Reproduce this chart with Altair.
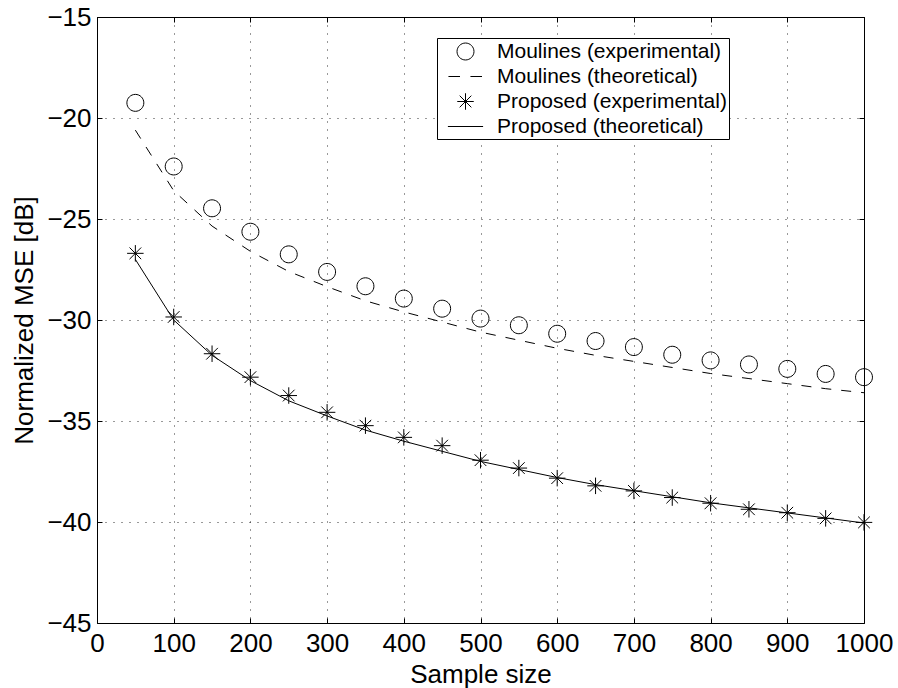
import altair as alt
import pandas as pd

# ---- data ----
sample_size = [50, 100, 150, 200, 250, 300, 350, 400, 450, 500,
               550, 600, 650, 700, 750, 800, 850, 900, 950, 1000]
moulines_exp = [-19.25, -22.4, -24.47, -25.63, -26.75, -27.62, -28.33, -28.94, -29.44, -29.93,
                -30.26, -30.68, -31.04, -31.34, -31.72, -32.0, -32.2, -32.42, -32.67, -32.83]
moulines_theo = [-20.6, -23.6, -25.35, -26.6, -27.6, -28.35, -29.05, -29.6, -30.1, -30.6,
                 -31.0, -31.4, -31.75, -32.05, -32.35, -32.65, -32.9, -33.15, -33.4, -33.6]
proposed_exp = [-26.7, -29.85, -31.67, -32.83, -33.74, -34.57, -35.23, -35.81, -36.22, -36.94,
                -37.33, -37.83, -38.21, -38.46, -38.79, -39.07, -39.37, -39.54, -39.82, -40.02]
proposed_theo = [-27.0, -30.0, -31.75, -33.0, -34.0, -34.75, -35.45, -36.0, -36.5, -37.0,
                 -37.4, -37.8, -38.15, -38.45, -38.75, -39.05, -39.3, -39.55, -39.8, -40.05]

series_names = ["Moulines (experimental)", "Moulines (theoretical)",
                "Proposed (experimental)", "Proposed (theoretical)"]
x_ticks = [0, 100, 200, 300, 400, 500, 600, 700, 800, 900, 1000]
y_ticks = [-45, -40, -35, -30, -25, -20, -15]

# ---- tables ----
points_df = pd.DataFrame({
    "n": sample_size * 2,
    "mse": moulines_exp + proposed_exp,
    "series": [series_names[0]] * len(sample_size) + [series_names[2]] * len(sample_size),
})
moul_line_df = pd.DataFrame({"n": sample_size, "mse": moulines_theo})
prop_line_df = pd.DataFrame({"n": sample_size, "mse": proposed_theo})

FONT = "Liberation Sans"
x_scale = alt.Scale(domain=[0, 1000], nice=False, zero=False)
y_scale = alt.Scale(domain=[-45, -15], nice=False, zero=False)

# symbol shapes (unit = half of sqrt(size))
circle_path = "M0.77,0A0.77,0.77,0,1,1,-0.77,0A0.77,0.77,0,1,1,0.77,0Z"
star_path = "M-0.75,0L0.75,0M0,-0.75L0,0.75M-0.53,-0.53L0.53,0.53M-0.53,0.53L0.53,-0.53"
dash_path = "M-1.55,0L-0.5,0M0.45,0L1.5,0"
solid_path = "M-1.6,0L1.6,0"

main_x_axis = alt.Axis(orient="bottom", values=x_ticks, format="d", title="Sample size",
                       offset=-5, tickSize=5, domain=False, grid=True,
                       labelFlush=False, labelOverlap=False, labelPadding=7, titlePadding=5)
main_y_axis = alt.Axis(orient="left", values=y_ticks, format="d", title="Normalized MSE [dB]",
                       offset=-5, tickSize=5, domain=False, grid=True,
                       labelFlush=False, labelOverlap=False, labelPadding=6, titlePadding=9)
top_x_axis = alt.Axis(orient="top", values=x_ticks, offset=-5, tickSize=5, domain=False,
                      grid=False, labels=False, title=None)
right_y_axis = alt.Axis(orient="right", values=y_ticks, offset=-5, tickSize=5, domain=False,
                        grid=False, labels=False, title=None)

moul_line = alt.Chart(moul_line_df).mark_line(
    color="black", strokeWidth=1, strokeDash=[10, 10]
).encode(
    x=alt.X("n:Q", scale=x_scale, axis=top_x_axis),
    y=alt.Y("mse:Q", scale=y_scale, axis=right_y_axis),
)

prop_line = alt.Chart(prop_line_df).mark_line(
    color="black", strokeWidth=1
).encode(
    x=alt.X("n:Q", scale=x_scale, axis=None),
    y=alt.Y("mse:Q", scale=y_scale, axis=None),
)

points = alt.Chart(points_df).mark_point(
    filled=False, color="black", strokeWidth=1, opacity=1, size=484
).encode(
    x=alt.X("n:Q", scale=x_scale, axis=main_x_axis),
    y=alt.Y("mse:Q", scale=y_scale, axis=main_y_axis),
    shape=alt.Shape(
        "series:N",
        scale=alt.Scale(domain=series_names,
                        range=[circle_path, dash_path, star_path, solid_path]),
        legend=alt.Legend(
            title=None, orient="none", legendX=340, legendY=21,
            strokeColor="black", fillColor="white", padding=2,
            symbolOffset=15, labelOffset=20, rowPadding=3,
            symbolSize=484, symbolStrokeWidth=1, symbolStrokeColor="black",
            labelFont=FONT, labelFontSize=21, labelColor="black", labelLimit=400,
            labelExpr="datum.label + '\u00a0\u00a0'",
        ),
    ),
)

chart = alt.layer(points, moul_line, prop_line).resolve_axis(
    x="independent", y="independent"
).properties(
    width=767, height=606,
    autosize=alt.AutoSizeParams(type="none"),
    padding={"left": 97, "top": 17, "right": 34, "bottom": 65},
    background="white",
).configure_view(
    stroke="black", strokeWidth=1
).configure_axis(
    labelFont=FONT, labelFontSize=26, labelColor="black",
    titleFont=FONT, titleFontSize=26, titleFontWeight="normal", titleColor="black",
    tickColor="black", tickWidth=1,
    gridColor="black", gridWidth=1, gridDash=[1, 7], gridOpacity=0.8,
)

chart.save("out.html", embed_options={"renderer": "svg", "actions": False})
